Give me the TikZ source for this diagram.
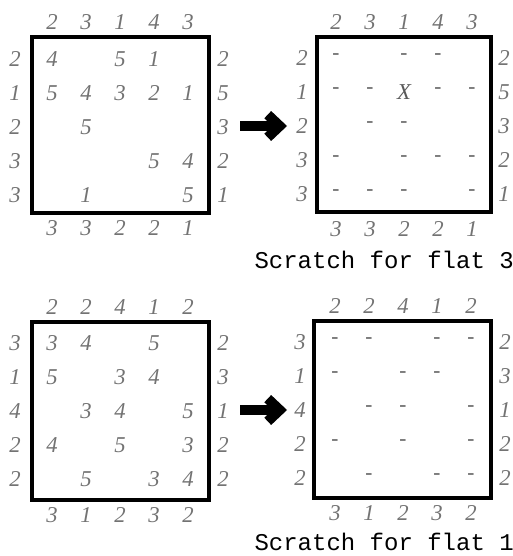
\documentclass[tikz,border=0pt]{standalone}
\usepackage{fontspec}
\setmainfont{Liberation Serif}
\setmonofont{Liberation Mono}
\usetikzlibrary{arrows.meta}

\begin{document}
\begin{tikzpicture}[x=0.75pt, y=-0.75pt, >=Stealth, thick,
    clue/.style={text=black!55, font=\fontsize{17}{17}\selectfont\itshape, inner sep=0pt},
    guess/.style={text=black!55, font=\fontsize{16}{16}\selectfont\bfseries, inner sep=0pt},
    board/.style={line width=2.4pt},
    caption/.style={font=\fontsize{18}{18}\selectfont\ttfamily, anchor=base west, inner sep=0pt},
    bigarrow/.style={line width=7.5pt, -{Straight Barb[length=9pt, width=17pt]}}]
    \useasboundingbox (0,0) rectangle (512,556);

    % Puzzle for flat 3 (top left)
    \draw[board] (32,37) rectangle (209,213);
    \foreach \v [count=\i] in {2,3,1,4,3}
        \node[clue] (p3-top\i) at ({18+34*\i},22) {\v};
    \foreach \v [count=\i] in {3,3,2,2,1}
        \node[clue] (p3-bot\i) at ({18+34*\i},228) {\v};
    \foreach \v [count=\i] in {2,1,2,3,3}
        \node[clue] (p3-left\i) at (15,{25+34*\i}) {\v};
    \foreach \v [count=\i] in {2,5,3,2,1}
        \node[clue] (p3-right\i) at (223,{25+34*\i}) {\v};
    \foreach \c/\r/\v in {1/1/4, 3/1/5, 4/1/1,
                          1/2/5, 2/2/4, 3/2/3, 4/2/2, 5/2/1,
                          2/3/5,
                          4/4/5, 5/4/4,
                          2/5/1, 5/5/5}
        \node[clue] (p3-\c-\r) at ({18+34*\c},{25+34*\r}) {\v};

    % Scratch for flat 3 (top right)
    \draw[board] (317,37) rectangle (491,212);
    \foreach \v [count=\i] in {2,3,1,4,3}
        \node[clue] (s3-top\i) at ({302+34*\i},22) {\v};
    \foreach \v [count=\i] in {3,3,2,2,1}
        \node[clue] (s3-bot\i) at ({302+34*\i},229) {\v};
    \foreach \v [count=\i] in {2,1,2,3,3}
        \node[clue] (s3-left\i) at (302,{24+34*\i}) {\v};
    \foreach \v [count=\i] in {2,5,3,2,1}
        \node[clue] (s3-right\i) at (504,{24+34*\i}) {\v};
    \foreach \c/\r in {1/1, 3/1, 4/1,
                       1/2, 2/2, 4/2, 5/2,
                       2/3, 3/3,
                       1/4, 3/4, 4/4, 5/4,
                       1/5, 2/5, 3/5, 5/5}
        \node[guess] (s3-\c-\r) at ({302+34*\c},{23+34*\r}) {-};
    \node[clue, text=black!65] (s3-3-2) at (404,92) {X};
    \node[caption] (cap3) at (254,268) {Scratch for flat 3};

    % arrow puzzle -> scratch
    \coordinate (a3-from) at (240,126);
    \coordinate (a3-to) at (287,126);
    \draw[bigarrow] (a3-from) -- (a3-to);

    % Puzzle for flat 1 (bottom left)
    \draw[board] (32,322) rectangle (209,500);
    \foreach \v [count=\i] in {2,2,4,1,2}
        \node[clue] (p1-top\i) at ({18+34*\i},307) {\v};
    \foreach \v [count=\i] in {3,1,2,3,2}
        \node[clue] (p1-bot\i) at ({18+34*\i},515) {\v};
    \foreach \v [count=\i] in {3,1,4,2,2}
        \node[clue] (p1-left\i) at (15,{309+34*\i}) {\v};
    \foreach \v [count=\i] in {2,3,1,2,2}
        \node[clue] (p1-right\i) at (223,{309+34*\i}) {\v};
    \foreach \c/\r/\v in {1/1/3, 2/1/4, 4/1/5,
                          1/2/5, 3/2/3, 4/2/4,
                          2/3/3, 3/3/4, 5/3/5,
                          1/4/4, 3/4/5, 5/4/3,
                          2/5/5, 4/5/3, 5/5/4}
        \node[clue] (p1-\c-\r) at ({18+34*\c},{309+34*\r}) {\v};

    % Scratch for flat 1 (bottom right)
    \draw[board] (314,321) rectangle (491,498);
    \foreach \v [count=\i] in {2,2,4,1,2}
        \node[clue] (s1-top\i) at ({301+34*\i},306) {\v};
    \foreach \v [count=\i] in {3,1,2,3,2}
        \node[clue] (s1-bot\i) at ({301+34*\i},513) {\v};
    \foreach \v [count=\i] in {3,1,4,2,2}
        \node[clue] (s1-left\i) at (300,{308+34*\i}) {\v};
    \foreach \v [count=\i] in {2,3,1,2,2}
        \node[clue] (s1-right\i) at (505,{308+34*\i}) {\v};
    \foreach \c/\r in {1/1, 2/1, 4/1, 5/1,
                       1/2, 3/2, 4/2,
                       2/3, 3/3, 5/3,
                       1/4, 3/4, 5/4,
                       2/5, 4/5, 5/5}
        \node[guess] (s1-\c-\r) at ({301+34*\c},{307+34*\r}) {-};
    \node[caption] (cap1) at (254,550) {Scratch for flat 1};

    % arrow puzzle -> scratch
    \coordinate (a1-from) at (240,410);
    \coordinate (a1-to) at (287,410);
    \draw[bigarrow] (a1-from) -- (a1-to);
\end{tikzpicture}
\end{document}
